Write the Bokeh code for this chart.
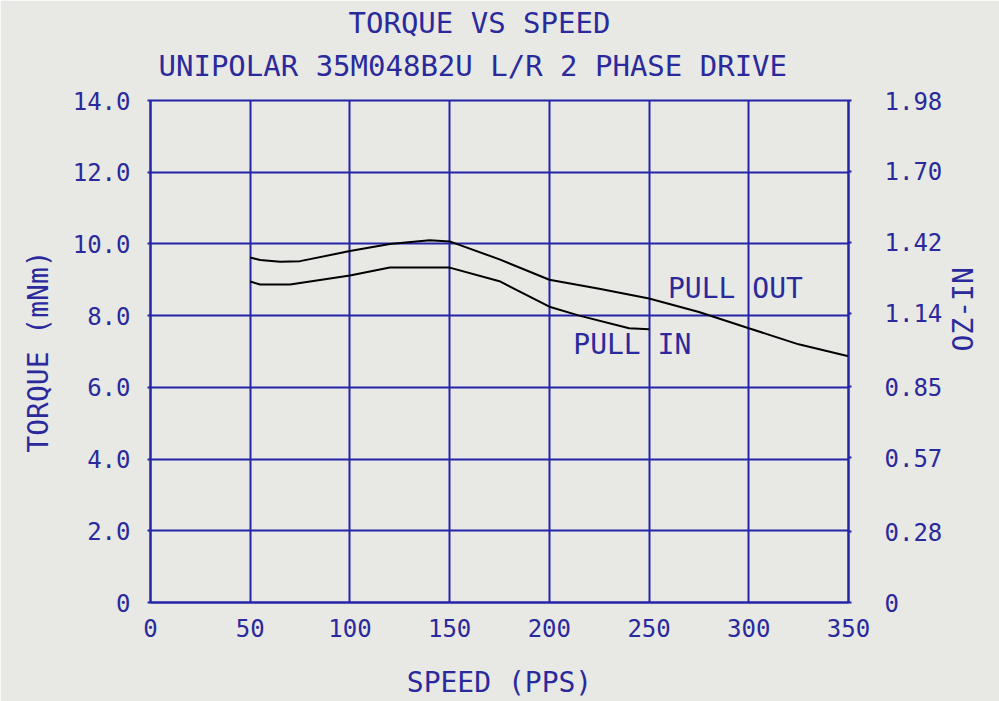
import math
from bokeh.plotting import figure
from bokeh.models import Range1d, LinearAxis, FixedTicker, Title, Label
from bokeh.embed import file_html
from bokeh.resources import INLINE

# ---- data ----
speed_ticks = [0, 50, 100, 150, 200, 250, 300, 350]
torque_ticks = [0, 2, 4, 6, 8, 10, 12, 14]
torque_labels = ["0", "2.0", "4.0", "6.0", "8.0", "10.0", "12.0", "14.0"]
ozin_ticks = [0, 0.28, 0.57, 0.85, 1.14, 1.42, 1.70, 1.98]
ozin_labels = ["0", "0.28", "0.57", "0.85", "1.14", "1.42", "1.70", "1.98"]
title_lines = ["TORQUE VS SPEED", "UNIPOLAR 35M048B2U L/R 2 PHASE DRIVE"]

pull_out_speed = [50, 55, 65, 75, 100, 120, 140, 150, 175, 200, 225, 250, 275, 300, 325, 350]
pull_out_torque = [9.62, 9.55, 9.5, 9.52, 9.8, 10.0, 10.1, 10.07, 9.57, 9.0, 8.75, 8.48, 8.1, 7.65, 7.2, 6.87]

pull_in_speed = [50, 55, 70, 100, 120, 150, 175, 200, 215, 240, 250]
pull_in_torque = [8.95, 8.87, 8.87, 9.12, 9.34, 9.34, 8.96, 8.25, 8.0, 7.65, 7.62]

# ---- style ----
BG = "#e8e8e5"
BLUE = "#2424a8"
TXT = "#2a2a9c"
FONT = "DejaVu Sans Mono"

p = figure(width=999, height=701, x_range=Range1d(0, 350), y_range=Range1d(0, 14),
           output_backend="svg", toolbar_location=None,
           min_border_left=150, min_border_right=151, min_border_top=100, min_border_bottom=96)
p.background_fill_color = BG
p.border_fill_color = BG
p.outline_line_color = BLUE
p.outline_line_width = 2

p.extra_y_ranges = {"oz": Range1d(0, 1.98)}

# grid
p.xgrid.ticker = FixedTicker(ticks=speed_ticks)
p.ygrid.ticker = FixedTicker(ticks=torque_ticks)
for g in (p.xgrid[0], p.ygrid[0]):
    g.grid_line_color = BLUE
    g.grid_line_width = 2

# axes
xa = p.xaxis[0]
xa.ticker = FixedTicker(ticks=speed_ticks)
xa.axis_label = "SPEED (PPS)"
ya = p.yaxis[0]
ya.ticker = FixedTicker(ticks=torque_ticks)
ya.major_label_overrides = {t: l for t, l in zip(torque_ticks, torque_labels)}
ya.axis_label = "TORQUE (mNm)"

ra = LinearAxis(y_range_name="oz", ticker=FixedTicker(ticks=ozin_ticks),
                major_label_overrides={t: l for t, l in zip(ozin_ticks, ozin_labels)},
                axis_label="OZ-IN")
p.add_layout(ra, "right")
ra.axis_label_orientation = math.pi / 2

for ax in (xa, ya, ra):
    ax.axis_line_color = BLUE
    ax.axis_line_width = 2
    ax.major_tick_line_color = BLUE
    ax.major_tick_line_width = 2
    ax.major_tick_in = 0
    ax.major_tick_out = 3
    ax.minor_tick_line_color = None
    ax.major_label_text_color = TXT
    ax.major_label_text_font = FONT
    ax.major_label_text_font_size = "24px"
    ax.axis_label_text_color = TXT
    ax.axis_label_text_font = FONT
    ax.axis_label_text_font_size = "28px"
    ax.axis_label_text_font_style = "normal"

xa.major_tick_out = 0
xa.major_label_standoff = 16
xa.axis_label_standoff = 26
ya.major_label_standoff = 17
ya.axis_label_standoff = 15
ra.major_label_standoff = 33
ra.axis_label_standoff = 18

# titles (first added is closest to plot)
t2 = Title(text=title_lines[1], align="left", offset=8,
           text_color=TXT, text_font=FONT, text_font_size="29px", text_font_style="normal",
           standoff=35)
t1 = Title(text=title_lines[0], align="left", offset=198,
           text_color=TXT, text_font=FONT, text_font_size="29px", text_font_style="normal",
           standoff=-21)
p.add_layout(t2, "above")
p.add_layout(t1, "above")

# curves
p.line(pull_out_speed, pull_out_torque, line_color="black", line_width=2)
p.line(pull_in_speed, pull_in_torque, line_color="black", line_width=2)

p.add_layout(Label(x=259.5, y=8.76, text="PULL OUT", text_color=TXT, text_font=FONT,
                   text_font_size="28px", text_baseline="middle"))
p.add_layout(Label(x=212, y=7.2, text="PULL IN", text_color=TXT, text_font=FONT,
                   text_font_size="28px", text_baseline="middle"))

open("out.html", "w").write(file_html(p, INLINE))
